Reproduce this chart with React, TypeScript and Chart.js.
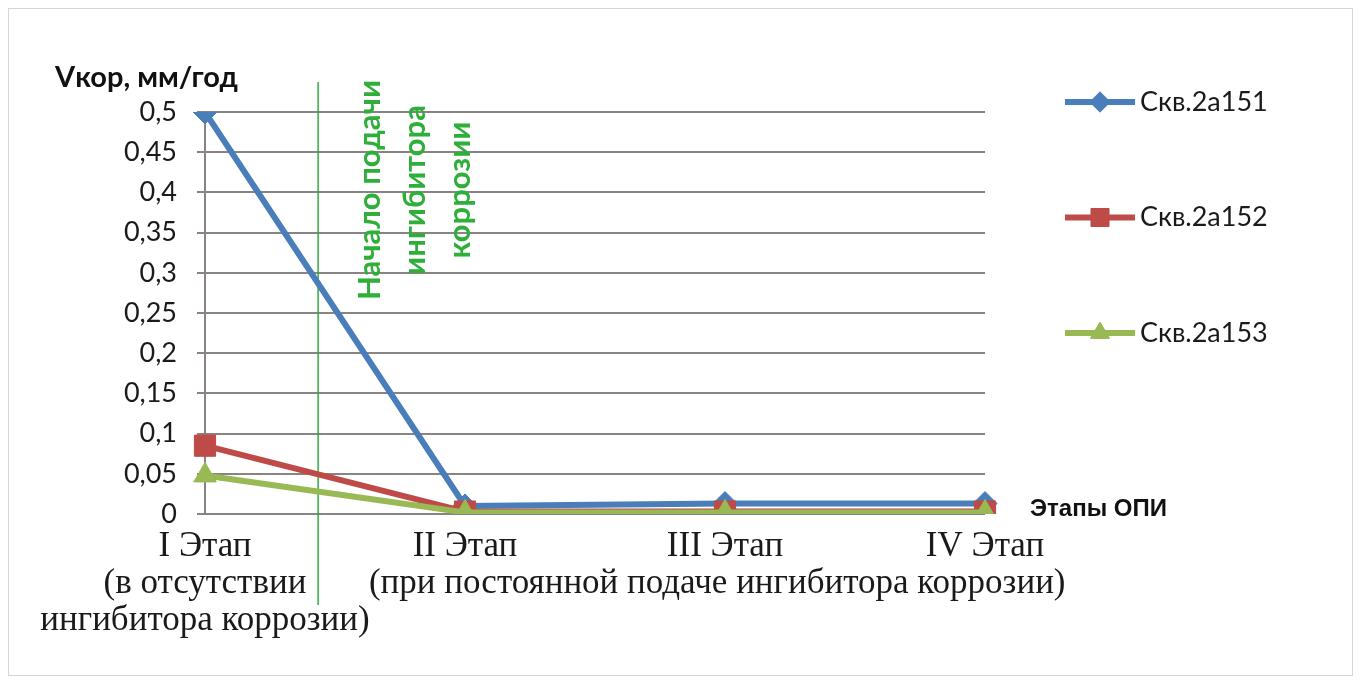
import React, { useEffect, useRef } from "react";
import { Chart, registerables } from "chart.js";
import { drawPoint } from "chart.js/helpers";

Chart.register(...registerables);

// Stages of the pilot test (x axis)
const stages: (string | string[])[] = [
  ["I Этап", "(в отсутствии", "ингибитора коррозии)"],
  "II Этап",
  "III Этап",
  "IV Этап",
];

// Corrosion rate, mm/year, per well
const well151 = [0.5, 0.01, 0.013, 0.013];
const well152 = [0.085, 0.003, 0.003, 0.003];
const well153 = [0.048, 0.002, 0.002, 0.002];
const seriesNames = ["Скв.2а151", "Скв.2а152", "Скв.2а153"];

// Y axis range
const yMin = 0;
const yMax = 0.5;
const yStep = 0.05;

// Annotations
const yTitle = "Vкор, мм/год";
const xTitle = "Этапы ОПИ";
const inhibitorStart = 0.435; // stage index where inhibitor dosing begins
const inhibitorNote = ["Начало подачи", "ингибитора", "коррозии"];
const continuousNote = "(при постоянной подаче ингибитора коррозии)";
const continuousNoteAt = 1.97; // stage index the note is centred on

const COLORS = ["#4a7ebb", "#be4b48", "#98b954"];
const STYLES = ["rectRot", "rect", "triangle"];
const RADII = [12, 15, 13];
const NOTE_GREEN = "#2fae3a";
const SANS = "Lato, 'Open Sans', sans-serif";
const ARIAL = "'Liberation Sans', Arial, sans-serif";
const SERIF = "'Liberation Serif', 'DejaVu Serif', serif";

const overlayPlugin = {
  id: "overlay",
  beforeDatasetsDraw(chart: any) {
    const { ctx, scales } = chart;
    const x = scales.x.getPixelForValue(inhibitorStart);
    ctx.save();
    ctx.strokeStyle = NOTE_GREEN;
    ctx.lineWidth = 1.5;
    ctx.beginPath();
    ctx.moveTo(x, 73);
    ctx.lineTo(x, 596);
    ctx.stroke();
    ctx.restore();
  },
  afterDraw(chart: any) {
    const { ctx, scales, chartArea } = chart;
    const xs = scales.x;
    ctx.save();

    // vertical note next to the inhibitor line
    const lx = xs.getPixelForValue(inhibitorStart);
    ctx.fillStyle = NOTE_GREEN;
    ctx.font = `bold 31px ${SANS}`;
    ctx.textAlign = "center";
    ctx.textBaseline = "middle";
    inhibitorNote.forEach((line, i) => {
      ctx.save();
      ctx.translate(lx + 52 + i * 45, 181);
      ctx.rotate(-Math.PI / 2);
      ctx.fillText(line, 0, 0);
      ctx.restore();
    });

    // axis titles
    ctx.fillStyle = "#111";
    ctx.font = `bold 29px ${SANS}`;
    ctx.textAlign = "left";
    ctx.fillText(yTitle, 46, 69);
    ctx.font = `bold 24px ${ARIAL}`;
    ctx.fillText(xTitle, chartArea.right + 45, chartArea.bottom - 5);

    // note under stages II–IV
    ctx.font = `35px ${SERIF}`;
    ctx.fillStyle = "#1a1a1a";
    ctx.textAlign = "center";
    ctx.fillText(continuousNote, xs.getPixelForValue(continuousNoteAt), 575);

    // legend
    chart.data.datasets.forEach((ds: any, i: number) => {
      const y = 93 + i * 115.5;
      ctx.strokeStyle = ds.borderColor;
      ctx.lineWidth = 6;
      ctx.beginPath();
      ctx.moveTo(1056, y);
      ctx.lineTo(1126, y);
      ctx.stroke();
      ctx.fillStyle = ds.backgroundColor;
      ctx.strokeStyle = ds.borderColor;
      ctx.lineWidth = 1;
      drawPoint(ctx, { pointStyle: ds.pointStyle, radius: ds.pointRadius * 0.85, borderWidth: 1, rotation: 0 }, 1091, y);
      ctx.fillStyle = "#1a1a1a";
      ctx.font = `27px ${SANS}`;
      ctx.textAlign = "left";
      ctx.textBaseline = "middle";
      ctx.fillText(seriesNames[i], 1131, y);
    });
    ctx.restore();
  },
};

export default function App() {
  const canvasRef = useRef<HTMLCanvasElement | null>(null);

  useEffect(() => {
    const canvas = canvasRef.current;
    if (!canvas) return;
    const series = [well151, well152, well153];
    const chart = new Chart(canvas, {
      type: "line",
      data: {
        labels: stages,
        datasets: series.map((values, i) => ({
          label: seriesNames[i],
          data: values,
          borderColor: COLORS[i],
          backgroundColor: COLORS[i],
          borderWidth: 6,
          pointStyle: STYLES[i],
          pointRadius: RADII[i],
          pointBorderWidth: 1,
          tension: 0,
          order: 3 - i,
        })),
      },
      options: {
        responsive: false,
        animation: false,
        events: [],
        layout: { padding: { left: 0, right: 367, top: 103, bottom: 0 } },
        plugins: {
          legend: { display: false },
          tooltip: { enabled: false },
        },
        scales: {
          x: {
            type: "category",
            offset: false,
            grid: { display: false, drawTicks: false },
            border: { display: false },
            ticks: {
              color: "#1a1a1a",
              font: { family: SERIF, size: 35, lineHeight: 1.06 },
              padding: 14,
              maxRotation: 0,
              autoSkip: false,
            },
            afterFit: (s: any) => {
              s.height = 161;
            },
          },
          y: {
            min: yMin,
            max: yMax,
            grid: { color: "#8a8383", lineWidth: 2, tickLength: 8 },
            border: { display: true, color: "#8a8383", width: 2 },
            ticks: {
              stepSize: yStep,
              color: "#1a1a1a",
              font: { family: SANS, size: 27 },
              padding: 20,
              callback: (v: any) => String(Math.round(Number(v) * 100) / 100).replace(".", ","),
            },
            afterFit: (s: any) => {
              s.width = 196;
            },
          },
        },
      },
      plugins: [overlayPlugin],
    });
    return () => chart.destroy();
  }, []);

  return (
    <div
      style={{
        position: "relative",
        width: 1343,
        height: 666,
        border: "1px solid #d6d6d6",
        background: "#fff",
      }}
    >
      <canvas ref={canvasRef} width={1343} height={666} style={{ display: "block" }} />
    </div>
  );
}
